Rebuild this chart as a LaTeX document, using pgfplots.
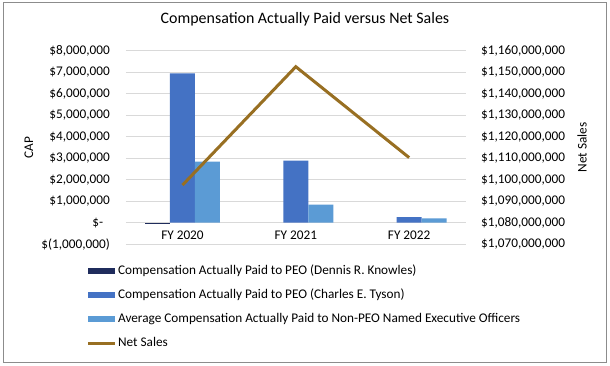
\documentclass[border=0pt]{standalone}
\usepackage{fontspec}
\setmainfont{Carlito}
\usepackage{pgfplots}
\pgfplotsset{compat=1.18}
\definecolor{knowles}{HTML}{1F2C5C}
\definecolor{tyson}{HTML}{4472C4}
\definecolor{neo}{HTML}{5B9BD5}
\definecolor{sales}{HTML}{986F22}
\definecolor{gridc}{HTML}{D9D9D9}
\definecolor{framec}{HTML}{8C8C8C}
\newcommand{\lblfont}{\fontsize{13.3}{15}\selectfont}
\newcommand{\titlefont}{\fontsize{16}{19}\selectfont}

\begin{document}
\begin{tikzpicture}
\useasboundingbox (0,0) rectangle (610bp,366bp);
\fill[white] (0,0) rectangle (610bp,366bp);
\draw[framec, line width=0.8bp] (3.5bp,3.5bp) rectangle (606.5bp,364bp);
\begin{axis}[
  at={(125.8bp,121.8bp)}, anchor=south west,
  scale only axis, width=340bp, height=193.4bp,
  xmin=-0.5, xmax=2.5, ymin=-1000000, ymax=8000000,
  scaled y ticks=false,
  xtick={0,1,2}, xticklabels={FY 2020, FY 2021, FY 2022},
  ytick={-1000000,0,1000000,2000000,3000000,4000000,5000000,6000000,7000000,8000000},
  yticklabels={{\$(1,000,000)},{\$-\hphantom{0}},{\$1,000,000},{\$2,000,000},{\$3,000,000},{\$4,000,000},{\$5,000,000},{\$6,000,000},{\$7,000,000},{\$8,000,000}},
  major tick length=0pt,
  axis line style={draw=none},
  ymajorgrids, grid style={gridc, line width=0.9bp},
  tick label style={font=\lblfont},
  yticklabel style={anchor=east, inner sep=0pt, xshift=-15.8bp},
  xticklabel style={anchor=center, inner sep=0pt, yshift=8.5bp},
  ylabel={CAP},
  ylabel style={at={(axis description cs:-0.285,0.5)}, anchor=center, font=\lblfont},
  title={Compensation Actually Paid versus Net Sales},
  title style={at={(axis description cs:0.527,1.1334)}, anchor=center, font=\titlefont},
  ybar=0pt, bar width=25bp,
  legend style={at={(axis description cs:-0.115,-0.1037)}, anchor=north west,
    draw=none, fill=none, inner sep=0pt, outer sep=0pt,
    row sep=10.5bp, column sep=0pt, font=\lblfont,
    nodes={inner ysep=0pt, inner xsep=1.7bp, text height=10bp, text depth=3.5bp}},
  legend cell align=left,
]
\addplot[fill=knowles, draw=none, legend image code/.code={\fill (0bp,-3bp) rectangle (26.7bp,3bp);}]
  coordinates {(0,-80000)};
\addlegendentry{Compensation Actually Paid to PEO (Dennis R. Knowles)}
\addplot[fill=tyson, draw=none, legend image code/.code={\fill (0bp,-3bp) rectangle (26.7bp,3bp);}]
  coordinates {(0,6950000) (1,2885000) (2,265000)};
\addlegendentry{Compensation Actually Paid to PEO (Charles E. Tyson)}
\addplot[fill=neo, draw=none, legend image code/.code={\fill (0bp,-3bp) rectangle (26.7bp,3bp);}]
  coordinates {(0,2840000) (1,840000) (2,200000)};
\addlegendentry{Average Compensation Actually Paid to Non-PEO Named Executive Officers}
\addlegendimage{sales, line width=3bp, legend image code/.code={\draw (0bp,0bp) -- (26.7bp,0bp);}}
\addlegendentry{Net Sales}
\end{axis}
\begin{axis}[
  at={(125.8bp,121.8bp)}, anchor=south west,
  scale only axis, width=340bp, height=193.4bp,
  xmin=-0.5, xmax=2.5, ymin=1070000000, ymax=1160000000,
  scaled y ticks=false,
  axis x line=none, axis y line*=right,
  axis line style={draw=none},
  major tick length=0pt,
  ytick={1070000000,1080000000,1090000000,1100000000,1110000000,1120000000,1130000000,1140000000,1150000000,1160000000},
  yticklabels={{\$1,070,000,000},{\$1,080,000,000},{\$1,090,000,000},{\$1,100,000,000},{\$1,110,000,000},{\$1,120,000,000},{\$1,130,000,000},{\$1,140,000,000},{\$1,150,000,000},{\$1,160,000,000}},
  tick label style={font=\lblfont},
  yticklabel style={anchor=west, inner sep=0pt, xshift=15.2bp},
  ylabel={Net Sales},
  ylabel style={at={(axis description cs:1.342,0.5)}, anchor=center, font=\lblfont, rotate=0},
]
\addplot[sales, line width=3bp, mark=none] coordinates {(0,1097500000) (1,1152600000) (2,1110300000)};
\end{axis}
\end{tikzpicture}
\end{document}
